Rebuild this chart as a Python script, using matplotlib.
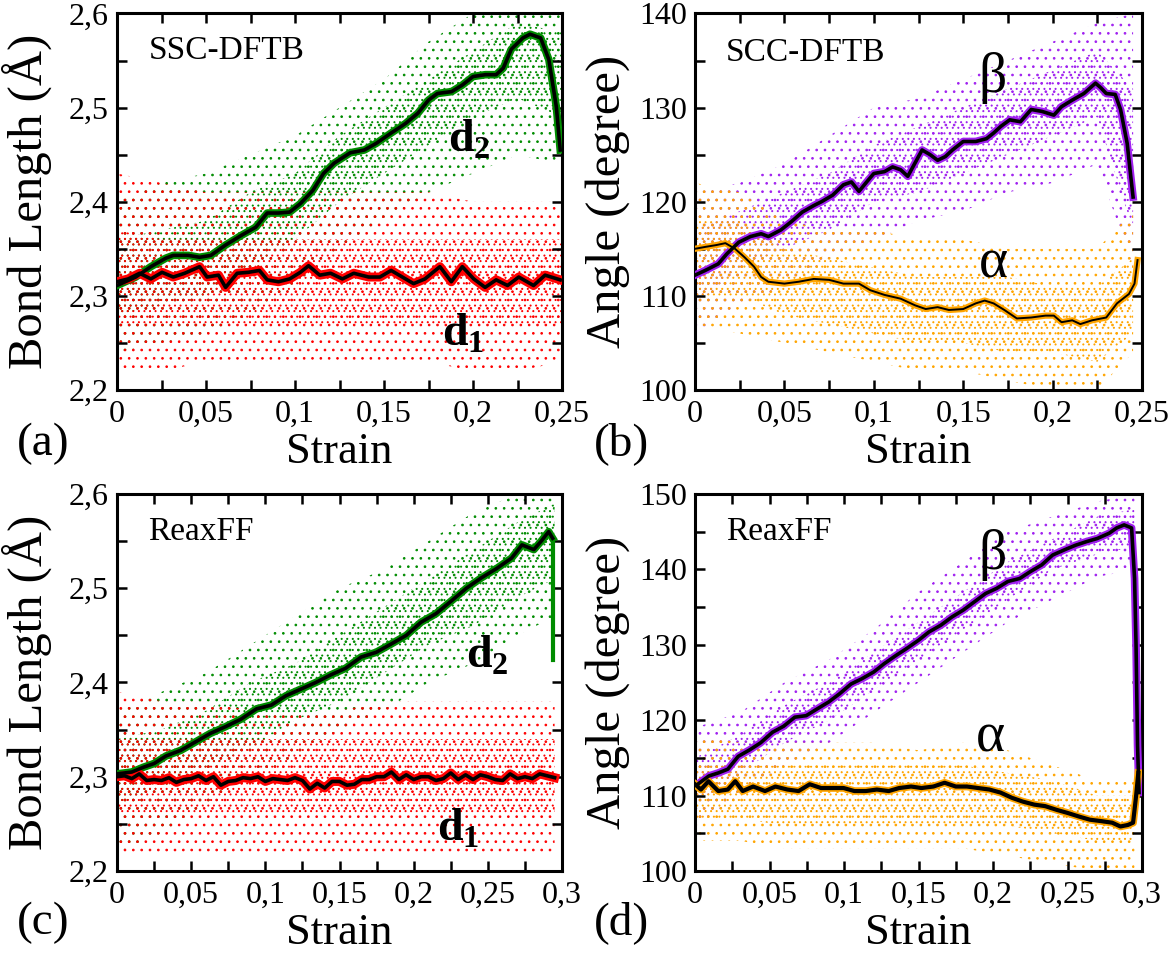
import numpy as np
import matplotlib
matplotlib.use("Agg")
import matplotlib.pyplot as plt
from matplotlib.ticker import MultipleLocator, FuncFormatter

plt.rcParams['font.family'] = ['Liberation Serif', 'DejaVu Serif']
plt.rcParams['mathtext.fontset'] = 'custom'
plt.rcParams['mathtext.rm'] = 'Liberation Serif'
plt.rcParams['mathtext.bf'] = 'Liberation Serif:bold'
plt.rcParams['hatch.linewidth'] = 0.7

GREEN = '#008c00'
RED = '#ff0000'
VIOLET = '#a020f0'
ORANGE = '#ffa500'

# ---- (a) SCC-DFTB bond lengths ----
a_d2_x = [0, 0.0105, 0.019, 0.0274, 0.0316, 0.040, 0.0464, 0.0527, 0.061, 0.0696, 0.078, 0.0844,
          0.0907, 0.097, 0.103, 0.110, 0.116, 0.122, 0.131, 0.139, 0.1456, 0.154, 0.162, 0.169,
          0.175, 0.180, 0.188, 0.194, 0.200, 0.207, 0.213, 0.217, 0.2215, 0.228, 0.232, 0.238,
          0.2426, 0.2468, 0.249]
a_d2_y = [2.311, 2.320, 2.331, 2.340, 2.343, 2.343, 2.341, 2.343, 2.354, 2.364, 2.373, 2.388,
          2.388, 2.389, 2.398, 2.412, 2.430, 2.441, 2.452, 2.455, 2.462, 2.473, 2.483, 2.494,
          2.508, 2.515, 2.517, 2.524, 2.533, 2.535, 2.535, 2.542, 2.562, 2.574, 2.578, 2.574,
          2.551, 2.501, 2.455]
a_d1_x = [0, 0.0063, 0.0127, 0.019, 0.0253, 0.0316, 0.038, 0.0464, 0.0506, 0.057, 0.061, 0.0675,
          0.0738, 0.080, 0.0844, 0.0907, 0.097, 0.103, 0.1076, 0.1139, 0.120, 0.1266, 0.133, 0.1414,
          0.1477, 0.154, 0.1603, 0.1666, 0.173, 0.1814, 0.1878, 0.194, 0.2004, 0.2068, 0.213, 0.2194,
          0.2257, 0.234, 0.2405, 0.249]
a_d1_y = [2.315, 2.318, 2.324, 2.318, 2.325, 2.320, 2.324, 2.331, 2.320, 2.322, 2.309, 2.324,
          2.325, 2.327, 2.317, 2.315, 2.318, 2.325, 2.332, 2.322, 2.324, 2.318, 2.324, 2.320,
          2.320, 2.327, 2.320, 2.313, 2.318, 2.331, 2.315, 2.331, 2.318, 2.309, 2.317, 2.311,
          2.320, 2.311, 2.322, 2.317]
# cloud envelopes (outer and dense inner band)
a_cx = [0, 0.025, 0.05, 0.075, 0.1, 0.125, 0.15, 0.175, 0.2, 0.225, 0.25]
a_g_lo = [2.24, 2.25, 2.26, 2.28, 2.31, 2.35, 2.38, 2.41, 2.43, 2.45, 2.44]
a_g_hi = [2.40, 2.42, 2.43, 2.45, 2.47, 2.50, 2.53, 2.57, 2.60, 2.60, 2.60]
a_g_lo2 = [2.28, 2.29, 2.30, 2.33, 2.36, 2.40, 2.43, 2.46, 2.49, 2.51, 2.49]
a_g_hi2 = [2.36, 2.37, 2.38, 2.41, 2.43, 2.47, 2.50, 2.53, 2.56, 2.59, 2.58]
a_r_lo = [2.22, 2.22, 2.23, 2.23, 2.23, 2.23, 2.23, 2.23, 2.22, 2.22, 2.23]
a_r_hi = [2.43, 2.42, 2.41, 2.41, 2.41, 2.41, 2.41, 2.41, 2.40, 2.40, 2.40]
a_r_lo2 = [2.27, 2.27, 2.27, 2.27, 2.27, 2.27, 2.27, 2.27, 2.27, 2.27, 2.27]
a_r_hi2 = [2.37, 2.36, 2.36, 2.36, 2.36, 2.36, 2.36, 2.36, 2.36, 2.36, 2.36]

# ---- (b) SCC-DFTB angles ----
b_beta_x = [0, 0.0057, 0.013, 0.018, 0.0245, 0.031, 0.037, 0.041, 0.048, 0.054, 0.060, 0.0665,
            0.0707, 0.077, 0.083, 0.0875, 0.0917, 0.096, 0.100, 0.106, 0.1105, 0.115, 0.119, 0.123,
            0.127, 0.1315, 0.1357, 0.140, 0.144, 0.150, 0.157, 0.163, 0.167, 0.171, 0.176, 0.182,
            0.188, 0.194, 0.2007, 0.205, 0.211, 0.2175, 0.224, 0.227, 0.230, 0.235, 0.238, 0.2417,
            0.2437, 0.245]
b_beta_y = [112.2, 112.7, 113.4, 114.5, 115.7, 116.3, 116.6, 116.3, 117.0, 117.9, 118.9, 119.6,
            120.0, 120.7, 121.8, 122.1, 121.1, 122.1, 123.0, 123.2, 123.7, 123.4, 122.7, 124.1,
            125.5, 125.0, 124.4, 124.8, 125.5, 126.4, 126.4, 126.7, 127.3, 128.0, 128.7, 128.5,
            129.8, 129.6, 129.2, 130.1, 130.8, 131.5, 132.6, 132.1, 131.5, 131.4, 129.8, 126.2,
            122.7, 120.5]
b_alpha_x = [0, 0.0057, 0.012, 0.017, 0.0224, 0.0277, 0.033, 0.037, 0.041, 0.050, 0.058, 0.0665,
             0.075, 0.083, 0.0917, 0.098, 0.106, 0.115, 0.123, 0.129, 0.1357, 0.142, 0.150, 0.157,
             0.162, 0.167, 0.173, 0.180, 0.188, 0.196, 0.2007, 0.205, 0.211, 0.2155, 0.222, 0.230,
             0.236, 0.2427, 0.2458, 0.2475]
b_alpha_y = [115.0, 115.2, 115.4, 115.6, 115.0, 114.1, 113.1, 112.0, 111.5, 111.3, 111.5, 111.8,
             111.7, 111.3, 111.3, 110.6, 110.1, 109.7, 109.0, 108.6, 108.8, 108.5, 108.6, 109.2,
             109.5, 109.2, 108.5, 107.6, 107.7, 107.9, 107.9, 107.2, 107.4, 107.0, 107.4, 107.7,
             109.2, 110.2, 111.3, 113.8]
b_cx = [0, 0.025, 0.05, 0.075, 0.1, 0.125, 0.15, 0.175, 0.2, 0.225, 0.245]
b_v_lo = [106, 109, 111, 114, 116, 118, 119, 121, 122, 124, 113]
b_v_hi = [121, 122, 124, 127, 130, 131, 133, 135, 137, 139, 140]
b_v_lo2 = [109, 113, 115, 117, 120, 121, 123, 125, 127, 129, 117]
b_v_hi2 = [117, 119, 121, 123, 126, 128, 130, 132, 134, 136, 132]
b_o_lo = [107, 106, 105, 104, 103, 102, 102, 101, 100, 100, 104]
b_o_hi = [122, 121, 118, 117, 117, 116, 116, 115, 115, 115, 119]
b_o_lo2 = [110, 110, 108, 107, 106, 105, 105, 104, 104, 103, 106]
b_o_hi2 = [118, 118, 115, 114, 113, 112, 112, 112, 111, 111, 114]

# ---- (c) ReaxFF bond lengths ----
c_d2_x = [0, 0.010, 0.0177, 0.025, 0.033, 0.043, 0.053, 0.063, 0.073, 0.0835, 0.094, 0.104,
          0.114, 0.124, 0.134, 0.144, 0.154, 0.1646, 0.1747, 0.185, 0.195, 0.205, 0.215, 0.225,
          0.2355, 0.2456, 0.256, 0.266, 0.273, 0.281, 0.286, 0.291, 0.2937]
c_d2_y = [2.303, 2.305, 2.310, 2.314, 2.322, 2.328, 2.337, 2.346, 2.353, 2.361, 2.372, 2.376,
          2.386, 2.393, 2.400, 2.408, 2.415, 2.427, 2.432, 2.441, 2.450, 2.464, 2.473, 2.486,
          2.500, 2.511, 2.521, 2.532, 2.546, 2.541, 2.550, 2.560, 2.553]
c_d2_end = 2.424
c_d1_x = [0, 0.005, 0.01, 0.015, 0.02, 0.025, 0.03, 0.035, 0.04, 0.045, 0.05, 0.055, 0.06,
          0.065, 0.07, 0.075, 0.08, 0.085, 0.09, 0.095, 0.10, 0.105, 0.11, 0.115, 0.12, 0.125,
          0.13, 0.135, 0.14, 0.145, 0.15, 0.155, 0.16, 0.165, 0.17, 0.175, 0.18, 0.185, 0.19,
          0.195, 0.20, 0.205, 0.21, 0.215, 0.22, 0.225, 0.23, 0.235, 0.24, 0.245, 0.25, 0.255,
          0.26, 0.265, 0.27, 0.275, 0.28, 0.285, 0.29, 0.295]
c_d1_y = [2.300, 2.301, 2.298, 2.303, 2.296, 2.297, 2.296, 2.299, 2.294, 2.297, 2.298, 2.301,
          2.296, 2.300, 2.291, 2.295, 2.296, 2.299, 2.298, 2.300, 2.295, 2.298, 2.297, 2.296,
          2.299, 2.296, 2.287, 2.293, 2.288, 2.295, 2.295, 2.291, 2.292, 2.297, 2.297, 2.300,
          2.300, 2.305, 2.297, 2.302, 2.297, 2.300, 2.300, 2.296, 2.298, 2.304, 2.297, 2.302,
          2.297, 2.302, 2.300, 2.297, 2.296, 2.303, 2.298, 2.300, 2.298, 2.303, 2.301, 2.299]
c_cx = [0, 0.03, 0.06, 0.09, 0.12, 0.15, 0.18, 0.21, 0.24, 0.27, 0.295]
c_g_lo = [2.22, 2.24, 2.27, 2.30, 2.32, 2.35, 2.37, 2.40, 2.42, 2.45, 2.47]
c_g_hi = [2.37, 2.39, 2.41, 2.44, 2.47, 2.50, 2.52, 2.55, 2.58, 2.60, 2.60]
c_g_lo2 = [2.27, 2.29, 2.31, 2.33, 2.36, 2.38, 2.41, 2.44, 2.46, 2.49, 2.51]
c_g_hi2 = [2.34, 2.35, 2.37, 2.40, 2.42, 2.45, 2.48, 2.51, 2.54, 2.57, 2.59]
c_r_lo = [2.22, 2.22, 2.22, 2.22, 2.22, 2.22, 2.22, 2.22, 2.22, 2.22, 2.22]
c_r_hi = [2.39, 2.38, 2.38, 2.37, 2.37, 2.37, 2.38, 2.38, 2.38, 2.38, 2.38]
c_r_lo2 = [2.26, 2.26, 2.26, 2.26, 2.26, 2.26, 2.26, 2.26, 2.26, 2.26, 2.26]
c_r_hi2 = [2.34, 2.34, 2.34, 2.34, 2.34, 2.34, 2.34, 2.34, 2.34, 2.34, 2.34]

# ---- (d) ReaxFF angles ----
d_beta_x = [0.0018, 0.0093, 0.0156, 0.022, 0.029, 0.037, 0.044, 0.052, 0.0595, 0.067, 0.0746,
            0.082, 0.0896, 0.097, 0.1047, 0.112, 0.120, 0.127, 0.135, 0.142, 0.150, 0.157, 0.165,
            0.1725, 0.180, 0.1875, 0.195, 0.2026, 0.210, 0.218, 0.225, 0.2327, 0.240, 0.248,
            0.2553, 0.263, 0.270, 0.278, 0.283, 0.288, 0.293, 0.295, 0.296, 0.297, 0.298]
d_beta_y = [111.5, 112.6, 113.0, 113.5, 115.2, 116.1, 117.0, 118.4, 119.2, 120.4, 120.6, 121.5,
            122.4, 123.5, 124.8, 125.5, 126.4, 127.5, 128.6, 129.5, 130.6, 131.7, 132.6, 133.7,
            134.6, 135.7, 136.8, 137.5, 138.4, 138.8, 139.7, 140.6, 141.9, 142.6, 143.2, 143.7,
            144.1, 144.8, 145.5, 145.9, 145.5, 138.8, 129.9, 116.6, 110.4]
d_alpha_x = [0, 0.004, 0.009, 0.0156, 0.022, 0.027, 0.032, 0.039, 0.047, 0.054, 0.062, 0.0695,
             0.077, 0.0846, 0.092, 0.0997, 0.107, 0.1147, 0.122, 0.130, 0.137, 0.145, 0.152, 0.160,
             0.1675, 0.175, 0.1825, 0.190, 0.1976, 0.205, 0.2127, 0.220, 0.2277, 0.235, 0.2428,
             0.250, 0.258, 0.265, 0.273, 0.280, 0.2855, 0.2905, 0.294, 0.296, 0.2975]
d_alpha_y = [111.5, 110.8, 111.9, 110.6, 110.8, 111.9, 110.6, 111.2, 110.6, 111.2, 110.8, 110.6,
             111.5, 111.0, 111.0, 111.0, 110.6, 110.6, 110.8, 110.6, 111.0, 111.2, 111.0, 111.2,
             111.7, 111.2, 111.2, 111.0, 110.8, 110.4, 109.7, 109.2, 108.8, 108.6, 108.1, 107.7,
             107.2, 106.8, 106.6, 106.4, 105.9, 106.1, 106.4, 109.9, 113.0]
d_cx = [0, 0.03, 0.06, 0.09, 0.12, 0.15, 0.18, 0.21, 0.24, 0.27, 0.295]
d_v_lo = [106, 110, 114, 117, 121, 125, 129, 133, 136, 139, 140]
d_v_hi = [119, 121, 125, 128, 132, 137, 141, 145, 147, 149, 150]
d_v_lo2 = [109, 113, 117, 120, 124, 128, 132, 136, 140, 142, 143]
d_v_hi2 = [115, 118, 122, 125, 129, 133, 137, 141, 144, 147, 148]
d_o_lo = [104, 104, 103, 103, 103, 103, 103, 102, 101, 100, 100]
d_o_hi = [118, 117, 117, 117, 117, 116, 117, 116, 114, 112, 112]
d_o_lo2 = [107, 107, 106, 106, 106, 106, 106, 106, 105, 104, 104]
d_o_hi2 = [114, 114, 114, 114, 114, 114, 114, 113, 112, 110, 110]


def virgula(v, pos):
    """tick label with comma as decimal separator"""
    s = ('%.3f' % v).rstrip('0').rstrip('.')
    return s.replace('.', ',')


def nuvem(ax, x, lo, hi, lo2, hi2, cor):
    """dotted cloud of the raw points: sparse outer band + denser inner band"""
    ax.fill_between(x, lo, hi, facecolor='none', edgecolor=cor, hatch='..', linewidth=0, zorder=1)
    ax.fill_between(x, lo2, hi2, facecolor='none', edgecolor=cor, hatch='...', linewidth=0, zorder=1)


def curva(ax, x, y, cor, lw_cor=5.5, lw_preto=2.6):
    ax.plot(x, y, color=cor, lw=lw_cor, zorder=3, solid_joinstyle='round')
    ax.plot(x, y, color='black', lw=lw_preto, zorder=4, solid_joinstyle='round')


def eixos(ax, xmax, ymin, ymax, ymaj, ymin_step, ylabel):
    ax.set_xlim(0, xmax)
    ax.set_ylim(ymin, ymax)
    ax.xaxis.set_major_locator(MultipleLocator(0.05))
    ax.xaxis.set_minor_locator(MultipleLocator(0.025))
    ax.yaxis.set_major_locator(MultipleLocator(ymaj))
    ax.yaxis.set_minor_locator(MultipleLocator(ymin_step))
    ax.xaxis.set_major_formatter(FuncFormatter(virgula))
    ax.yaxis.set_major_formatter(FuncFormatter(virgula))
    ax.tick_params(which='both', direction='in', top=True, right=True, width=1.8, length=7.5)
    ax.tick_params(axis='x', which='major', labelsize=23, pad=7)
    ax.tick_params(axis='y', which='major', labelsize=23, pad=6)
    for s in ax.spines.values():
        s.set_linewidth(2.2)
    ax.set_xlabel('Strain', fontsize=32)
    ax.set_ylabel(ylabel, fontsize=35)
    ax.xaxis.set_label_coords(0.5, -0.112)
    ax.yaxis.set_label_coords(-0.145, 0.5)


fig = plt.figure(figsize=(11.76, 9.57), dpi=100)
ax_a = fig.add_axes([0.0995, 0.5925, 0.3784, 0.3934])
ax_b = fig.add_axes([0.5910, 0.5925, 0.3801, 0.3934])
ax_c = fig.add_axes([0.0995, 0.0899, 0.3784, 0.3939])
ax_d = fig.add_axes([0.5910, 0.0899, 0.3801, 0.3939])

# (a)
nuvem(ax_a, a_cx, a_g_lo, a_g_hi, a_g_lo2, a_g_hi2, GREEN)
nuvem(ax_a, a_cx, a_r_lo, a_r_hi, a_r_lo2, a_r_hi2, RED)
curva(ax_a, a_d2_x, a_d2_y, GREEN)
curva(ax_a, a_d1_x, a_d1_y, RED, lw_cor=6.5)
eixos(ax_a, 0.25, 2.2, 2.6, 0.1, 0.05, 'Bond Length (Å)')
ax_a.text(0.072, 0.90, 'SSC-DFTB', transform=ax_a.transAxes, fontsize=24, va='center')
ax_a.text(0.743, 0.664, r'$\mathbf{d}_{\mathbf{2}}$', transform=ax_a.transAxes, fontsize=33, va='center')
ax_a.text(0.73, 0.149, r'$\mathbf{d}_{\mathbf{1}}$', transform=ax_a.transAxes, fontsize=33, va='center')

# (b)
nuvem(ax_b, b_cx, b_v_lo, b_v_hi, b_v_lo2, b_v_hi2, VIOLET)
nuvem(ax_b, b_cx, b_o_lo, b_o_hi, b_o_lo2, b_o_hi2, ORANGE)
curva(ax_b, b_beta_x, b_beta_y, VIOLET)
curva(ax_b, b_alpha_x, b_alpha_y, ORANGE, lw_cor=4.5, lw_preto=1.4)
eixos(ax_b, 0.25, 100, 140, 10, 5, 'Angle (degree)')
ax_b.text(0.068, 0.895, 'SCC-DFTB', transform=ax_b.transAxes, fontsize=24, va='center')
ax_b.text(0.635, 0.829, 'β', transform=ax_b.transAxes, fontsize=40, va='center')
ax_b.text(0.635, 0.336, 'α', transform=ax_b.transAxes, fontsize=40, va='center')

# (c)
nuvem(ax_c, c_cx, c_g_lo, c_g_hi, c_g_lo2, c_g_hi2, GREEN)
nuvem(ax_c, c_cx, c_r_lo, c_r_hi, c_r_lo2, c_r_hi2, RED)
ax_c.plot([c_d2_x[-1], c_d2_x[-1]], [c_d2_y[-1], c_d2_end], color=GREEN, lw=3, zorder=3)
curva(ax_c, c_d2_x, c_d2_y, GREEN)
curva(ax_c, c_d1_x, c_d1_y, RED, lw_cor=6.5)
eixos(ax_c, 0.3, 2.2, 2.6, 0.1, 0.05, 'Bond Length (Å)')
ax_c.text(0.07, 0.90, 'ReaxFF', transform=ax_c.transAxes, fontsize=24, va='center')
ax_c.text(0.785, 0.572, r'$\mathbf{d}_{\mathbf{2}}$', transform=ax_c.transAxes, fontsize=33, va='center')
ax_c.text(0.72, 0.111, r'$\mathbf{d}_{\mathbf{1}}$', transform=ax_c.transAxes, fontsize=33, va='center')

# (d)
nuvem(ax_d, d_cx, d_v_lo, d_v_hi, d_v_lo2, d_v_hi2, VIOLET)
nuvem(ax_d, d_cx, d_o_lo, d_o_hi, d_o_lo2, d_o_hi2, ORANGE)
curva(ax_d, d_beta_x, d_beta_y, VIOLET)
curva(ax_d, d_alpha_x, d_alpha_y, ORANGE, lw_cor=5.5, lw_preto=3.0)
eixos(ax_d, 0.3, 100, 150, 10, 5, 'Angle (degree)')
ax_d.text(0.069, 0.90, 'ReaxFF', transform=ax_d.transAxes, fontsize=24, va='center')
ax_d.text(0.633, 0.838, 'β', transform=ax_d.transAxes, fontsize=40, va='center')
ax_d.text(0.629, 0.354, 'α', transform=ax_d.transAxes, fontsize=40, va='center')

# panel letters
for txt, x, y in [('(a)', 0.014, 0.536), ('(b)', 0.505, 0.536),
                  ('(c)', 0.014, 0.036), ('(d)', 0.505, 0.036)]:
    fig.text(x, y, txt, fontsize=34, va='center', ha='left')

fig.savefig('out.png', dpi=100)
